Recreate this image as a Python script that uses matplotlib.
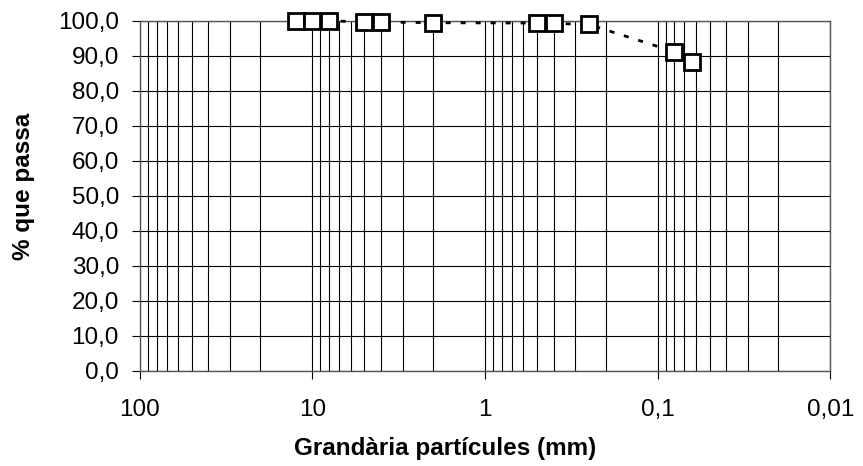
import numpy as np
import matplotlib.pyplot as plt
from matplotlib.ticker import FixedLocator, FuncFormatter, LogLocator

plt.rcParams['font.family'] = ['Liberation Sans', 'DejaVu Sans']

# grain size (mm) and % passing
size_mm = [12.5, 10, 8, 5, 4, 2, 0.5, 0.4, 0.25, 0.08, 0.063]
passing = [100.0, 100.0, 100.0, 99.8, 99.7, 99.5, 99.4, 99.3, 99.0, 91.2, 88.2]

x_ticks = [100, 10, 1, 0.1, 0.01]
y_ticks = np.arange(0, 101, 10)


def comma(v, pos=None, nd=1):
    return f"{v:.{nd}f}".replace(".", ",")


def xfmt(v, pos=None):
    return f"{v:g}".replace(".", ",")


fig = plt.figure(figsize=(8.63, 4.66), dpi=100)
ax = fig.add_axes([0.162, 0.204, 0.800, 0.751])

ax.set_xscale("log")
ax.set_xlim(100, 0.01)
ax.set_ylim(0, 100)

ax.xaxis.set_major_locator(FixedLocator(x_ticks))
ax.xaxis.set_minor_locator(LogLocator(base=10, subs=np.arange(2, 10)))
ax.xaxis.set_major_formatter(FuncFormatter(xfmt))
ax.xaxis.set_minor_formatter(FuncFormatter(lambda v, p: ""))
ax.yaxis.set_major_locator(FixedLocator(y_ticks))
ax.yaxis.set_major_formatter(FuncFormatter(comma))

ax.grid(True, which="both", axis="x", color="black", linewidth=0.8)
ax.grid(True, which="major", axis="y", color="black", linewidth=0.8)
ax.set_axisbelow(True)

ax.tick_params(axis="both", which="major", direction="out", length=6,
               width=0.8, labelsize=17.5)
ax.tick_params(axis="y", which="major", pad=9)
ax.tick_params(axis="x", which="minor", length=0)
ax.tick_params(axis="x", which="major", pad=14)
for s in ax.spines.values():
    s.set_color("#555555")
    s.set_linewidth(1.0)

ax.plot(size_mm, passing, linestyle=(0, (1.8, 3.6)), color="black", linewidth=2,
        marker="s", markersize=11, markerfacecolor="white",
        markeredgecolor="black", markeredgewidth=2, clip_on=False, zorder=5)

ax.set_xlabel("Grandària partícules (mm)", fontsize=17.5, fontweight="bold")
ax.set_ylabel("% que passa", fontsize=17.5, fontweight="bold")
ax.xaxis.set_label_coords(0.442, -0.19)
ax.yaxis.set_label_coords(-0.152, 0.526)

fig.savefig("out.png", dpi=100)
